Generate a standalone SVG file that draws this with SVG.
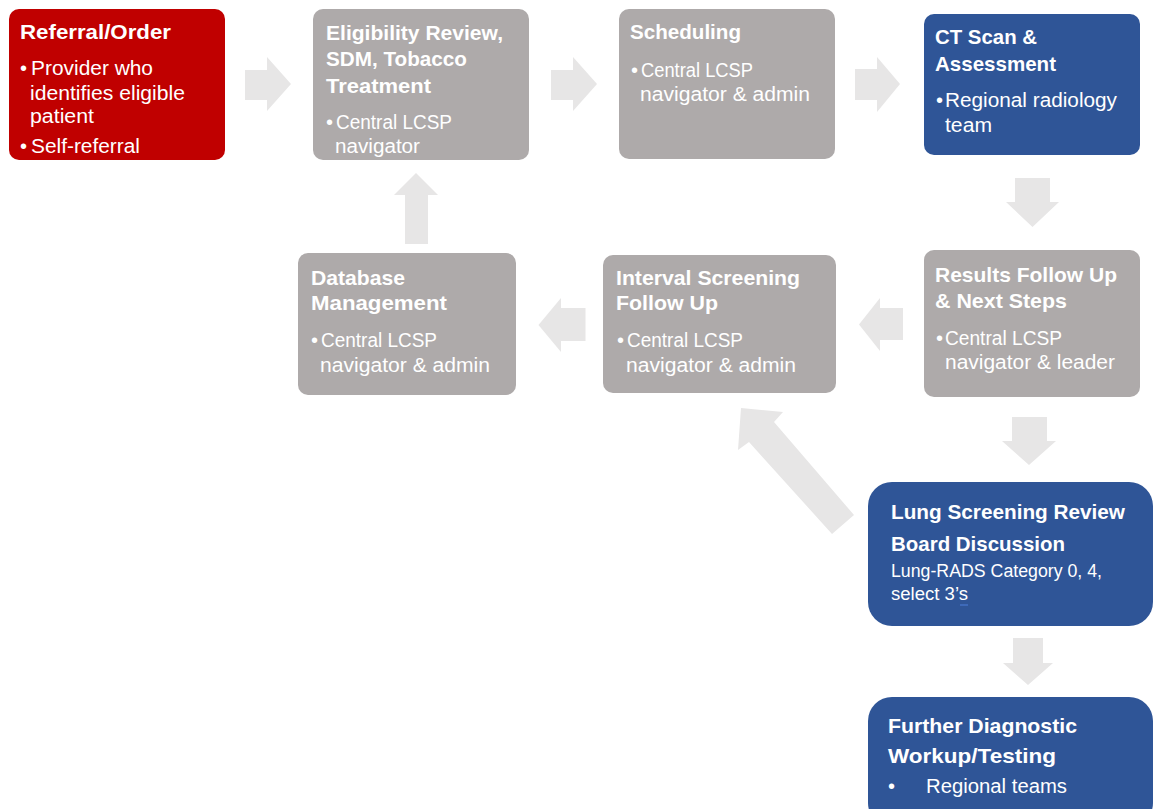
<svg xmlns="http://www.w3.org/2000/svg" width="1153" height="809" viewBox="0 0 1153 809">
<style>
.red{fill:#C00000}
.gray{fill:#AEAAAA}
.blue{fill:#2F5597}
.arr{fill:#E7E6E6}
text{font-family:"Liberation Sans",Arial,sans-serif;fill:#FFFFFF}
.t{font-weight:bold;font-size:21px}
.b{font-size:20px}
.s{font-size:18px}
</style>
<rect width="1153" height="809" fill="#FFFFFF"/>
<g id="connectors">
<polygon class="arr" points="245,70 267,70 267,57 291,84 267,111 267,100 245,100"/>
<polygon class="arr" points="551,70 573,70 573,57 597,84 573,111 573,100 551,100"/>
<polygon class="arr" points="855,69 877,69 877,57 900,84 877,112 877,100 855,100"/>
<polygon class="arr" points="1015,178 1050,178 1050,202 1059,202 1032.5,227 1006,202 1015,202"/>
<polygon class="arr" points="903,308 903,340 880,340 880,351 859,324.5 880,298 880,308"/>
<polygon class="arr" points="585.5,308 585.5,341 561,341 561,352 538.5,325 561,298 561,308"/>
<polygon class="arr" points="405,244 405,195 394,195 416,173 438,195 428,195 428,244"/>
<polygon class="arr" points="1012,417 1047,417 1047,441 1056,441 1029,465 1002,441 1012,441"/>
<polygon class="arr" points="1013,638 1043,638 1043,663 1053,663 1028,685 1003,663 1013,663"/>
<polygon class="arr" points="741,408 783,412 774,422 854,515 832,534 749,442 738,450"/>
</g>
<g id="referral">
<rect class="red" x="9" y="9" width="216" height="151" rx="10"/>
<text class="t" x="20" y="39" textLength="151" lengthAdjust="spacingAndGlyphs">Referral/Order</text>
<text class="b" x="20" y="75">•</text>
<text class="b" x="31" y="75" textLength="122" lengthAdjust="spacingAndGlyphs">Provider who</text>
<text class="b" x="30" y="100" textLength="155" lengthAdjust="spacingAndGlyphs">identifies eligible</text>
<text class="b" x="30" y="123" textLength="64" lengthAdjust="spacingAndGlyphs">patient</text>
<text class="b" x="20" y="153">•</text>
<text class="b" x="31" y="153" textLength="109" lengthAdjust="spacingAndGlyphs">Self-referral</text>
</g>
<g id="eligibility">
<rect class="gray" x="313" y="9" width="216" height="151" rx="10"/>
<text class="t" x="326" y="40" textLength="177" lengthAdjust="spacingAndGlyphs">Eligibility Review,</text>
<text class="t" x="326" y="66" textLength="141" lengthAdjust="spacingAndGlyphs">SDM, Tobacco</text>
<text class="t" x="326" y="93" textLength="105" lengthAdjust="spacingAndGlyphs">Treatment</text>
<text class="b" x="326" y="129">•</text>
<text class="b" x="336" y="129" textLength="116" lengthAdjust="spacingAndGlyphs">Central LCSP</text>
<text class="b" x="335" y="153" textLength="85" lengthAdjust="spacingAndGlyphs">navigator</text>
</g>
<g id="scheduling">
<rect class="gray" x="619" y="9" width="216" height="150" rx="10"/>
<text class="t" x="630" y="39" textLength="111" lengthAdjust="spacingAndGlyphs">Scheduling</text>
<text class="b" x="631" y="77">•</text>
<text class="b" x="641" y="77" textLength="112" lengthAdjust="spacingAndGlyphs">Central LCSP</text>
<text class="b" x="640" y="101" textLength="170" lengthAdjust="spacingAndGlyphs">navigator &amp; admin</text>
</g>
<g id="ctscan">
<rect class="blue" x="924" y="14" width="216" height="141" rx="10"/>
<text class="t" x="935" y="44" textLength="102" lengthAdjust="spacingAndGlyphs">CT Scan &amp;</text>
<text class="t" x="935" y="71" textLength="121" lengthAdjust="spacingAndGlyphs">Assessment</text>
<text class="b" x="936" y="107">•</text>
<text class="b" x="945" y="107" textLength="172" lengthAdjust="spacingAndGlyphs">Regional radiology</text>
<text class="b" x="945" y="132" textLength="47" lengthAdjust="spacingAndGlyphs">team</text>
</g>
<g id="results">
<rect class="gray" x="924" y="250" width="216" height="147" rx="10"/>
<text class="t" x="935" y="282" textLength="182" lengthAdjust="spacingAndGlyphs">Results Follow Up</text>
<text class="t" x="935" y="308" textLength="132" lengthAdjust="spacingAndGlyphs">&amp; Next Steps</text>
<text class="b" x="936" y="345">•</text>
<text class="b" x="945" y="345" textLength="117" lengthAdjust="spacingAndGlyphs">Central LCSP</text>
<text class="b" x="945" y="369" textLength="170" lengthAdjust="spacingAndGlyphs">navigator &amp; leader</text>
</g>
<g id="interval">
<rect class="gray" x="603" y="255" width="233" height="138" rx="10"/>
<text class="t" x="616" y="285" textLength="184" lengthAdjust="spacingAndGlyphs">Interval Screening</text>
<text class="t" x="616" y="310" textLength="102" lengthAdjust="spacingAndGlyphs">Follow Up</text>
<text class="b" x="617" y="347">•</text>
<text class="b" x="627" y="347" textLength="116" lengthAdjust="spacingAndGlyphs">Central LCSP</text>
<text class="b" x="626" y="372" textLength="170" lengthAdjust="spacingAndGlyphs">navigator &amp; admin</text>
</g>
<g id="database">
<rect class="gray" x="298" y="253" width="218" height="142" rx="10"/>
<text class="t" x="311" y="285" textLength="94" lengthAdjust="spacingAndGlyphs">Database</text>
<text class="t" x="311" y="310" textLength="136" lengthAdjust="spacingAndGlyphs">Management</text>
<text class="b" x="311" y="347">•</text>
<text class="b" x="321" y="347" textLength="116" lengthAdjust="spacingAndGlyphs">Central LCSP</text>
<text class="b" x="320" y="372" textLength="170" lengthAdjust="spacingAndGlyphs">navigator &amp; admin</text>
</g>
<g id="reviewboard">
<rect class="blue" x="868" y="482" width="285" height="144" rx="24"/>
<text class="t" x="891" y="519" textLength="234" lengthAdjust="spacingAndGlyphs">Lung Screening Review</text>
<text class="t" x="891" y="551" textLength="174" lengthAdjust="spacingAndGlyphs">Board Discussion</text>
<text class="s" x="891" y="577" textLength="211" lengthAdjust="spacingAndGlyphs">Lung-RADS Category 0, 4,</text>
<text class="s" x="891" y="600" textLength="77" lengthAdjust="spacingAndGlyphs">select 3’s</text>
<line x1="960" y1="605" x2="968" y2="605" stroke="#4472C4" stroke-width="1.5"/>
</g>
<g id="workup">
<rect class="blue" x="868" y="697" width="285" height="130" rx="24"/>
<text class="t" x="888" y="733" textLength="189" lengthAdjust="spacingAndGlyphs">Further Diagnostic</text>
<text class="t" x="888" y="763" textLength="168" lengthAdjust="spacingAndGlyphs">Workup/Testing</text>
<text class="b" x="888" y="793">•</text>
<text class="b" x="926" y="793" textLength="141" lengthAdjust="spacingAndGlyphs">Regional teams</text>
</g>
</svg>
